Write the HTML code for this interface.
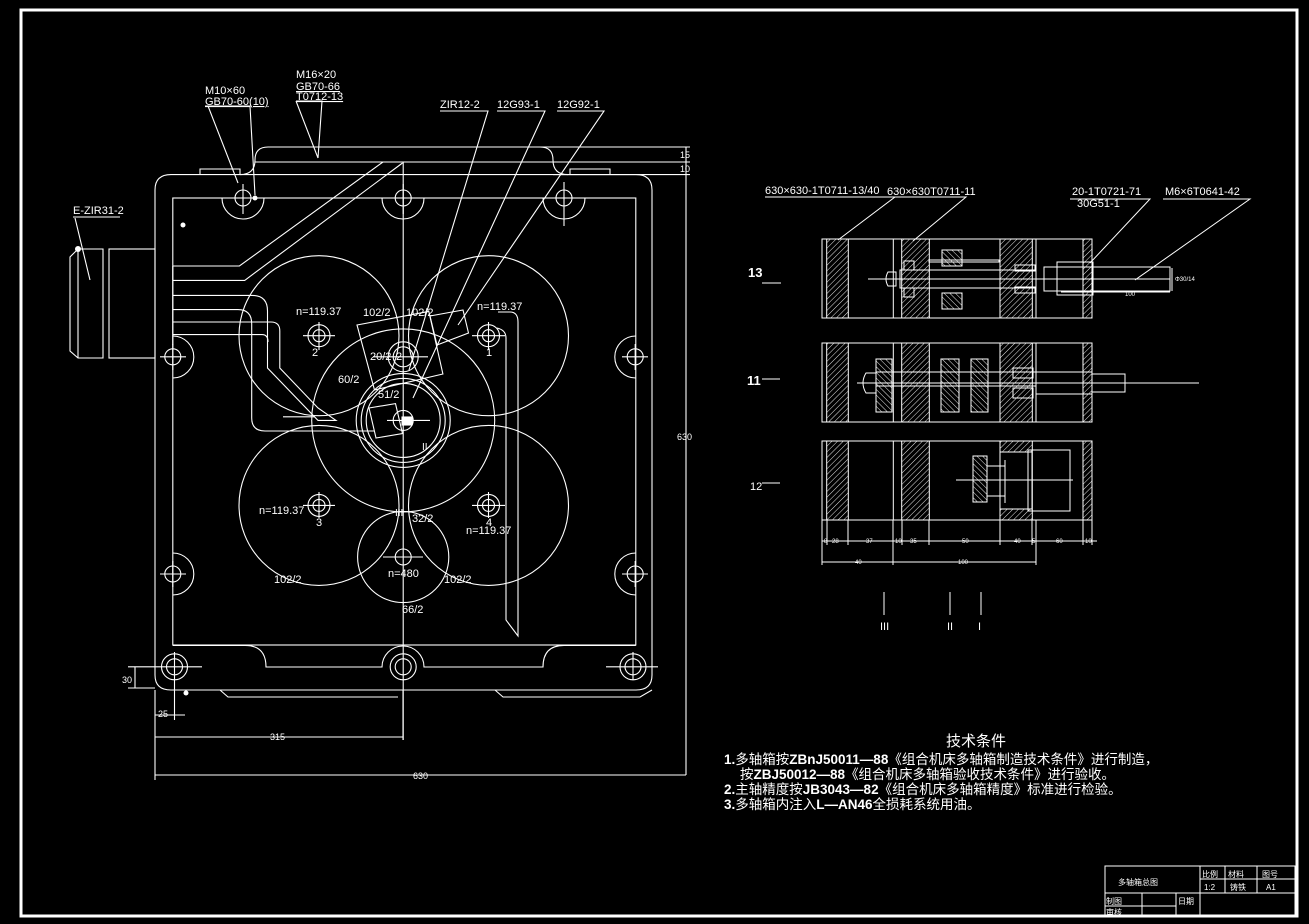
<!DOCTYPE html>
<html><head><meta charset="utf-8"><style>
html,body{margin:0;padding:0;background:#000;width:1309px;height:924px;overflow:hidden}
svg{display:block}
text{font-family:"Liberation Sans","Noto Sans CJK SC",sans-serif;fill:#fff}
</style></head><body>
<svg width="1309" height="924" viewBox="0 0 1309 924" xmlns="http://www.w3.org/2000/svg">
<defs>
<pattern id="h" width="4" height="4" patternUnits="userSpaceOnUse" patternTransform="rotate(45)">
<line x1="0" y1="0" x2="0" y2="4" stroke="#fff" stroke-width="0.9"/></pattern>
<pattern id="h2" width="4" height="4" patternUnits="userSpaceOnUse" patternTransform="rotate(-45)">
<line x1="0" y1="0" x2="0" y2="4" stroke="#fff" stroke-width="0.9"/></pattern>
</defs>
<rect x="0" y="0" width="1309" height="924" fill="#000"/>
<rect x="21" y="10" width="1276" height="906" fill="none" stroke="#fff" stroke-width="3"/>

<g fill="none" stroke="#fff" stroke-width="1.1">
<!-- main body -->
<path d="M155,190 Q155,174.6 171,174.6 H636 Q652,174.6 652,190 V675 Q652,690 636,690 H171 Q155,690 155,675 Z"/>
<rect x="172.8" y="198" width="463" height="447"/>
<path d="M200,174.6 V169 H240 V174.6 M570,174.6 V169 H610 V174.6"/>
<path d="M240,174.6 Q255,174.6 255,160 Q255,147 268,147 H540 Q553,147 553,160 Q553,174.6 568,174.6"/>
<path d="M255,162 H690 M553,174.6 H690 M540,147 H690"/>
<path d="M220,690 L228,697 H398 M495,690 L503,697 H640 L652,690"/>
<!-- bosses -->
<path d="M222,198 A21,21 0 0 0 264,198 M382,198 A21,21 0 0 0 424,198 M543,198 A21,21 0 0 0 585,198"/>
<path d="M172.8,336 A21,21 0 0 1 172.8,378 M172.8,553 A21,21 0 0 1 172.8,595"/>
<path d="M635.8,336 A21,21 0 0 0 635.8,378 M635.8,553 A21,21 0 0 0 635.8,595"/>
<path d="M172.8,645.4 H245 Q266,645.4 266,667 H382 A21,21 0 0 1 424,667 H543 Q543,645.4 564,645.4 H635.8"/>
<g>
<circle cx="243" cy="198" r="8"/><circle cx="403.2" cy="198" r="8"/><circle cx="564" cy="198" r="8"/>
<circle cx="172.8" cy="356.8" r="8"/><circle cx="172.8" cy="574" r="8"/>
<circle cx="635.2" cy="356.8" r="8"/><circle cx="635.2" cy="574" r="8"/>
<circle cx="174.5" cy="666.8" r="8"/><circle cx="403.2" cy="666.8" r="8"/><circle cx="633" cy="666.8" r="8"/>
<circle cx="174.5" cy="666.8" r="13"/><circle cx="403.2" cy="666.8" r="13"/><circle cx="633" cy="666.8" r="13"/>
</g>
<path d="M243,184 V214 M233,198 H253 M403.2,184 V214 M549,198 H579 M564,182 V226 M160,356.8 H186 M172.8,344 V370 M160,574 H186 M172.8,561 V587 M622,356.8 H648 M635.2,344 V370 M622,574 H648 M635.2,561 V587 M155,666.8 H202 M174.5,652 V720 M606,666.8 H658 M633,652 V680"/>
<!-- gears -->
<circle cx="319" cy="335.7" r="80"/><circle cx="488.5" cy="335.7" r="80"/>
<circle cx="319" cy="505.4" r="80"/><circle cx="488.5" cy="505.4" r="80"/>
<circle cx="403.2" cy="420.4" r="91.5"/>
<circle cx="403.2" cy="420.4" r="47"/><circle cx="403.2" cy="420.4" r="42"/><circle cx="403.2" cy="420.4" r="37"/>
<circle cx="403.2" cy="420.4" r="10"/>
<circle cx="403.2" cy="557" r="45.6"/>
<circle cx="403.2" cy="356.8" r="15"/><circle cx="403.2" cy="356.8" r="10"/>
<circle cx="319" cy="335.7" r="11"/><circle cx="319" cy="335.7" r="6"/>
<circle cx="488.5" cy="335.7" r="11"/><circle cx="488.5" cy="335.7" r="6"/>
<circle cx="319" cy="505.4" r="11"/><circle cx="319" cy="505.4" r="6"/>
<circle cx="488.5" cy="505.4" r="11"/><circle cx="488.5" cy="505.4" r="6"/>
<circle cx="403.2" cy="557" r="8"/>
<path d="M303,335.7 H335 M319,322 V350 M472,335.7 H505 M488.5,322 V350 M303,505.4 H335 M319,492 V518 M472,505.4 H505 M488.5,492 V518 M383,557 H423 M387,420.4 H430 M373,356.8 H428"/>
<path d="M403.2,162 V740"/>
<!-- pipes -->
<path d="M172.8,266 H239.4 L383,162 M172.8,280.4 H244.7 L402.5,163"/>
<path d="M172.8,295.4 H252 Q267.5,295.4 267.5,311 V368 L318,420.4 H336 L318,408 L279.8,368 V331 Q279.8,322 271,322 H172.8"/>
<path d="M172.8,309.6 H238 Q251.7,309.6 251.7,324 V418 Q251.7,431 265,431 H374"/>
<path d="M172.8,334.6 H262 Q268,334.6 268,342"/>
<path d="M172.8,266 V345 M283,416.8 H315"/>
<path d="M498,312 H510 Q518,312 518,322 V636 L506,620 V338 Q506,330 497,328"/>
<path d="M357,325 L428.8,311.4 L442.9,374 L374.5,390 Z"/>
<path d="M430,316 L463,310 L468.5,333 L437,345 Z"/>
<path d="M369,408 L395.5,403.6 L402.5,433.6 L376,438 Z"/>
<rect x="402" y="417" width="10" height="8" fill="#fff"/>
<!-- leaders -->
<path d="M205,106 H250 L255,195 M208,106 L238,183 M296,101 H322 L318,158 M296,101 L318,158 M73,217 H120 M75,218 L90,280 M440,111 H488 L409,370 M497,111 H545 L413,398 M557,111 H604 L458,325"/>
<!-- motor -->
<rect x="109" y="249" width="46" height="109"/>
<path d="M103,249 H78 L70,257 V351 L78,358 H103 Z M78,249 V358"/>
<!-- dims -->
<path d="M686,147 V775 M155,690 V780 M155,775 H686 M155,737 H403 M403,690 V740 M128,666.8 H155 M128,688 H155 M135,666.8 V688 M155,715 H185"/>
</g>
<circle cx="255" cy="198" r="2.5" fill="#fff"/><circle cx="183" cy="225" r="2.5" fill="#fff"/><circle cx="78" cy="249" r="3" fill="#fff"/><circle cx="186" cy="693" r="2.5" fill="#fff"/>

<g font-size="11">
<text x="205" y="94">M10×60</text>
<text x="205" y="105" text-decoration="underline">GB70-60(10)</text>
<text x="296" y="78">M16×20</text>
<text x="296" y="90" text-decoration="underline">GB70-66</text>
<text x="296" y="100" text-decoration="underline">T0712-13</text>
<text x="73" y="214">E-ZIR31-2</text>
<text x="440" y="108">ZIR12-2</text>
<text x="497" y="108">12G93-1</text>
<text x="557" y="108">12G92-1</text>
<text x="680" y="158" font-size="9">15</text>
<text x="680" y="172" font-size="9">10</text>
<text x="677" y="440" font-size="9">630</text>
<text x="270" y="740" font-size="9">315</text>
<text x="413" y="779" font-size="9">630</text>
<text x="122" y="683" font-size="9">30</text>
<text x="158" y="717" font-size="9">25</text>
<text x="296" y="315">n=119.37</text>
<text x="363" y="316">102/2</text>
<text x="406" y="316">102/2</text>
<text x="477" y="310">n=119.37</text>
<text x="312" y="356">2</text>
<text x="486" y="356">1</text>
<text x="370" y="360">20/2</text>
<text x="396" y="360">2</text>
<text x="338" y="383">60/2</text>
<text x="378" y="398">51/2</text>
<text x="422" y="450" font-size="10">II</text>
<text x="259" y="514">n=119.37</text>
<text x="316" y="526">3</text>
<text x="395" y="516" font-size="10">III</text>
<text x="412" y="522">32/2</text>
<text x="486" y="526">4</text>
<text x="466" y="534">n=119.37</text>
<text x="274" y="583">102/2</text>
<text x="388" y="577">n=480</text>
<text x="444" y="583">102/2</text>
<text x="402" y="613">66/2</text>
</g>

<!-- right section views -->
<g fill="none" stroke="#fff" stroke-width="1">
<rect x="822" y="239" width="270" height="79"/>
<rect x="826.7" y="239" width="21.6" height="79" fill="url(#h)"/>
<rect x="901.7" y="239" width="27.6" height="79" fill="url(#h)"/>
<rect x="1000" y="239" width="32.3" height="79" fill="url(#h)"/>
<rect x="1083" y="239" width="9" height="79" fill="url(#h)"/>
<path d="M893.3,239 V318 M1036,239 V318"/>
<rect x="929" y="260" width="70" height="2"/>
<rect x="900" y="270" width="136" height="18"/>
<rect x="942" y="250" width="20" height="16" fill="url(#h2)"/>
<rect x="942" y="293" width="20" height="16" fill="url(#h2)"/>
<rect x="904" y="261" width="10" height="9"/><rect x="904" y="288" width="10" height="9"/>
<path d="M888,272 Q884,279 888,286 H896 V272 Z"/>
<rect x="1044" y="267" width="126" height="24"/>
<rect x="1057" y="262" width="36" height="33"/>
<path d="M868,279 H1170 M1061,292 H1170 M1172,268 V291"/>
<rect x="1015" y="265" width="20" height="6"/><rect x="1015" y="287" width="20" height="6"/>

<rect x="822" y="343" width="270" height="79"/>
<rect x="826.7" y="343" width="21.6" height="79" fill="url(#h)"/>
<rect x="901.7" y="343" width="27.6" height="79" fill="url(#h)"/>
<rect x="1000" y="343" width="32.3" height="79" fill="url(#h)"/>
<rect x="1083" y="343" width="9" height="79" fill="url(#h)"/>
<path d="M893.3,343 V422 M1036,343 V422"/>
<rect x="876" y="372" width="160" height="14"/>
<rect x="1036" y="372" width="56" height="22"/>
<rect x="1092" y="374" width="33" height="18"/>
<path d="M857,383 H1199"/>
<rect x="876" y="359" width="16" height="53" fill="url(#h2)"/>
<rect x="941" y="359" width="18" height="53" fill="url(#h2)"/>
<rect x="971" y="359" width="17" height="53" fill="url(#h2)"/>
<rect x="1013" y="368" width="20" height="10"/><rect x="1013" y="388" width="20" height="10"/>
<path d="M866,373 Q860,383 866,393 H876 V373 Z"/>

<rect x="822" y="441" width="270" height="79"/>
<rect x="826.7" y="441" width="21.6" height="79" fill="url(#h)"/>
<rect x="901.7" y="441" width="27.6" height="79" fill="url(#h)"/>
<rect x="1000" y="441" width="32.3" height="79" fill="url(#h)"/>
<rect x="1083" y="441" width="9" height="79" fill="url(#h)"/>
<path d="M893.3,441 V520"/>
<rect x="1000" y="452" width="32" height="57" fill="#000"/>
<rect x="1028" y="450" width="42" height="61"/>
<rect x="973" y="456" width="14" height="46" fill="url(#h2)"/>
<rect x="987" y="466" width="18" height="30"/>
<path d="M1005,460 V503 M956,480 H1073"/>

<path d="M822,520 V565 M1092,520 V545 M822,541 H1097 M822,562 H1036 M827,520 V545 M848,520 V545 M893,520 V565 M902,520 V545 M929,520 V545 M1000,520 V545 M1032,520 V545 M1036,520 V565 M1083,520 V545"/>
<path d="M765,197 H895 L838,240 M890,197 H966 L913,241 M1070,199 H1150 L1090,263 M1163,199 H1250 L1135,280"/>
<path d="M762,283 H781 M762,379 H780 M762,483 H780 M884,592 V615 M950,592 V615 M981,592 V615"/>
</g>
<g font-size="11">
<text x="765" y="194">630×630-1T0711-13/40</text>
<text x="887" y="195">630×630T0711-11</text>
<text x="1072" y="195">20-1T0721-71</text>
<text x="1077" y="207">30G51-1</text>
<text x="1165" y="195">M6×6T0641-42</text>
<text x="748" y="277" font-weight="bold" font-size="13">13</text>
<text x="747" y="385" font-weight="bold" font-size="13">11</text>
<text x="750" y="490">12</text>
<text x="880" y="630" font-family="Liberation Serif">III</text>
<text x="947" y="630" font-family="Liberation Serif">II</text>
<text x="978" y="630" font-family="Liberation Serif">I</text>
<text x="1175" y="281" font-size="6">Φ30/14</text>
<text x="1125" y="296" font-size="6">100</text>
</g>
<g font-size="6">
<text x="824" y="543">8</text><text x="832" y="543">28</text><text x="866" y="543">37</text><text x="895" y="543">10</text><text x="910" y="543">35</text><text x="962" y="543">50</text><text x="1014" y="543">40</text><text x="1032" y="543">5</text><text x="1056" y="543">60</text><text x="1085" y="543">10</text>
<text x="855" y="564">40</text><text x="958" y="564">100</text>
</g>

<g>
<text x="946" y="746" font-size="15">技术条件</text>
<text x="724" y="764" font-size="13.5"><tspan font-weight="bold">1.</tspan>多轴箱按<tspan font-weight="bold">ZBnJ50011—88</tspan>《组合机床多轴箱制造技术条件》进行制造，</text>
<text x="740" y="779" font-size="13.5">按<tspan font-weight="bold">ZBJ50012—88</tspan>《组合机床多轴箱验收技术条件》进行验收。</text>
<text x="724" y="794" font-size="13.5"><tspan font-weight="bold">2.</tspan>主轴精度按<tspan font-weight="bold">JB3043—82</tspan>《组合机床多轴箱精度》标准进行检验。</text>
<text x="724" y="809" font-size="13.5"><tspan font-weight="bold">3.</tspan>多轴箱内注入<tspan font-weight="bold">L—AN46</tspan>全损耗系统用油。</text>
</g>

<g fill="none" stroke="#fff" stroke-width="1">
<rect x="1105" y="866" width="190" height="50"/>
<path d="M1200,866 V893 M1105,893 H1295 M1200,879 H1295 M1225,866 V893 M1257,866 V893 M1142,893 V916 M1176,893 V916 M1200,893 V916 M1105,906 H1176"/>
</g>
<g font-size="8">
<text x="1118" y="885">多轴箱总图</text>
<text x="1202" y="877">比例</text><text x="1228" y="877">材料</text><text x="1262" y="877">图号</text>
<text x="1204" y="890">1:2</text><text x="1230" y="890">铸铁</text><text x="1266" y="890">A1</text>
<text x="1106" y="904">制图</text><text x="1178" y="904">日期</text>
<text x="1106" y="915">审核</text>
</g>
</svg>
</body></html>
